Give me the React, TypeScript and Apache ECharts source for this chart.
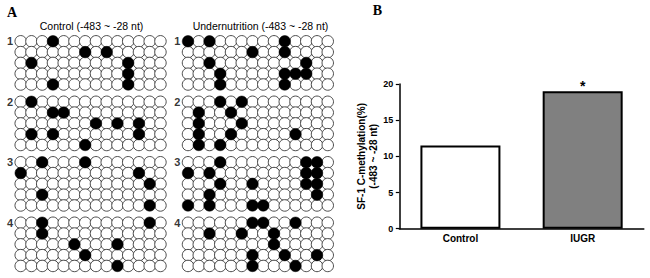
import React, { useEffect, useRef } from "react";
import * as echarts from "echarts";

// ---------- data ----------
const panelLabels = ["A", "B"];
const dotTitles = ["Control (-483 ~ -28 nt)", "Undernutrition (-483 ~ -28 nt)"];
const cloneLabels = ["1", "2", "3", "4"];
const cpgCount = 14;
const rowsPerClone = 5;

// methylated CpG column indices, per clone, per row
const controlMethylated: number[][][] = [
  [[3], [6, 8], [1, 10], [10], [3, 10]],
  [[1], [3, 4], [7, 9, 11], [1, 3, 11], [6]],
  [[2, 6], [0, 11], [12], [2], [12]],
  [[2, 12], [2], [5, 9], [6], [9]],
];
const undernutritionMethylated: number[][][] = [
  [[0, 2, 9], [6, 9], [2, 11], [3, 9, 10, 11], [3, 9]],
  [[3, 5], [1, 4], [1, 5], [1, 4, 10], [1, 3]],
  [[3, 11, 12], [0, 2, 11, 12], [3, 6, 11, 12], [2, 12], [0, 2, 6, 7]],
  [[6, 7, 10], [2, 5, 8], [8], [6, 9, 12], [6, 10]],
];

const barCategories = ["Control", "IUGR"];
const barValues = [11.5, 19.0];
const barSignificance = ["", "*"];
const barFills = ["#ffffff", "#808080"];
const yAxisNameLines = ["SF-1 C-methylation(%)", "(-483 ~ -28 nt)"];

// ---------- layout constants ----------
const COL_PX = 10.75;
const ROW_PX = 10.8;
const CLONE_STRIDE = 5.6; // in row units
const X_MIN = -1.8;
const X_MAX = cpgCount;
const Y_MIN = -1;
const Y_MAX = (cloneLabels.length - 1) * CLONE_STRIDE + rowsPerClone;
const DOT_TOP = 41.3 - ROW_PX;
const DOT_HEIGHT = (Y_MAX - Y_MIN) * ROW_PX;
const DOT_WIDTH = (X_MAX - X_MIN) * COL_PX;
const FIRST_COL_PX = [20.7, 188];

function buildDots(groups: number[][][]) {
  const open: number[][] = [];
  const filled: number[][] = [];
  groups.forEach((rows, g) => {
    rows.forEach((meth, r) => {
      for (let c = 0; c < cpgCount; c++) {
        const pt = [c, g * CLONE_STRIDE + r];
        if (meth.includes(c)) filled.push(pt);
        else open.push(pt);
      }
    });
  });
  return { open, filled };
}

export default function App() {
  const ref = useRef<HTMLDivElement>(null);
  useEffect(() => {
    if (!ref.current) return;
    const chart = echarts.init(ref.current, undefined, { renderer: "svg" });
    const dotSets = [buildDots(controlMethylated), buildDots(undernutritionMethylated)];

    const grids: any[] = FIRST_COL_PX.map((fx) => ({
      left: fx + X_MIN * COL_PX,
      top: DOT_TOP,
      width: DOT_WIDTH,
      height: DOT_HEIGHT,
      containLabel: false,
    }));
    grids.push({ left: 399.3, top: 84, width: 244.5, height: 144.7, containLabel: false });

    const xAxes: any[] = [0, 1].map((i) => ({
      gridIndex: i,
      type: "value",
      min: X_MIN,
      max: X_MAX,
      show: false,
    }));
    xAxes.push({
      gridIndex: 2,
      type: "category",
      data: barCategories,
      axisLine: { lineStyle: { color: "#000", width: 1.5 } },
      axisTick: { alignWithLabel: true, length: 3, lineStyle: { color: "#000", width: 1.2 } },
      axisLabel: {
        color: "#000",
        fontSize: 10,
        fontWeight: "bold",
        fontFamily: "Liberation Sans, Arial, sans-serif",
        margin: 5,
      },
    });
    const yAxes: any[] = [0, 1].map((i) => ({
      gridIndex: i,
      type: "value",
      inverse: true,
      min: Y_MIN,
      max: Y_MAX,
      show: false,
    }));
    yAxes.push({
      gridIndex: 2,
      type: "value",
      min: 0,
      max: 20,
      interval: 5,
      name: yAxisNameLines.join("\n"),
      nameLocation: "middle",
      nameGap: 16,
      nameTextStyle: {
        color: "#000",
        fontSize: 10,
        fontWeight: "bold",
        fontFamily: "Liberation Sans, Arial, sans-serif",
        lineHeight: 12,
        align: "center",
      },
      splitLine: { show: false },
      axisLine: { show: true, lineStyle: { color: "#000", width: 1.5 } },
      axisTick: { show: true, length: 3.5, lineStyle: { color: "#000", width: 1.2 } },
      axisLabel: {
        color: "#000",
        fontSize: 9,
        fontWeight: "bold",
        fontFamily: "Liberation Sans, Arial, sans-serif",
        margin: 6,
      },
    });

    const series: any[] = [];
    dotSets.forEach((set, i) => {
      series.push({
        type: "scatter",
        xAxisIndex: i,
        yAxisIndex: i,
        clip: false,
        symbol: "circle",
        symbolSize: 11.5,
        itemStyle: { color: "#fff", borderColor: "#3a3a3a", borderWidth: 0.9, opacity: 1 },
        data: set.open,
        silent: true,
      });
      series.push({
        type: "scatter",
        xAxisIndex: i,
        yAxisIndex: i,
        clip: false,
        symbol: "circle",
        symbolSize: 11.5,
        itemStyle: { color: "#000", borderColor: "#000", borderWidth: 0.5, opacity: 1 },
        data: set.filled,
        silent: true,
      });
      series.push({
        type: "scatter",
        xAxisIndex: i,
        yAxisIndex: i,
        clip: false,
        symbolSize: 1,
        itemStyle: { color: "rgba(0,0,0,0)" },
        data: cloneLabels.map((t, g) => ({ name: t, value: [-0.99, g * CLONE_STRIDE] })),
        label: {
          show: true,
          position: "inside",
          formatter: (p: any) => p.name,
          color: "#000",
          fontSize: 11,
          fontWeight: "bold",
          fontFamily: "Liberation Sans, Arial, sans-serif",
        },
        silent: true,
      });
    });
    series.push({
      type: "bar",
      xAxisIndex: 2,
      yAxisIndex: 2,
      barWidth: 80,
      data: barValues.map((v, i) => ({
        value: v,
        itemStyle: { color: barFills[i], borderColor: "#000", borderWidth: 2 },
        label: {
          show: barSignificance[i] !== "",
          position: "top",
          distance: -2,
          formatter: barSignificance[i],
          color: "#000",
          fontSize: 14,
          fontWeight: "bold",
          fontFamily: "Liberation Sans, Arial, sans-serif",
        },
      })),
      silent: true,
    });

    const titleFont = "10.5px 'Liberation Sans', Arial, sans-serif";
    const graphic: any[] = [
      {
        type: "text",
        x: 12,
        y: 12.5,
        style: {
          text: panelLabels[0],
          font: "bold 14px 'Liberation Serif', 'Times New Roman', serif",
          fill: "#000",
          align: "center",
          verticalAlign: "middle",
        },
      },
      {
        type: "text",
        x: 377.5,
        y: 10,
        style: {
          text: panelLabels[1],
          font: "bold 14px 'Liberation Serif', 'Times New Roman', serif",
          fill: "#000",
          align: "center",
          verticalAlign: "middle",
        },
      },
      {
        type: "text",
        x: 91.5,
        y: 25.5,
        style: { text: dotTitles[0], font: titleFont, fill: "#000", align: "center", verticalAlign: "middle" },
      },
      {
        type: "text",
        x: 260.5,
        y: 25.5,
        style: { text: dotTitles[1], font: titleFont, fill: "#000", align: "center", verticalAlign: "middle" },
      },
    ];

    chart.setOption({
      animation: false,
      backgroundColor: "#fff",
      grid: grids,
      xAxis: xAxes,
      yAxis: yAxes,
      series,
      graphic,
    });
    return () => chart.dispose();
  }, []);
  return (
    <div
      ref={ref}
      style={{ position: "absolute", left: 0, top: 0, width: 650, height: 278, background: "#fff" }}
    />
  );
}
